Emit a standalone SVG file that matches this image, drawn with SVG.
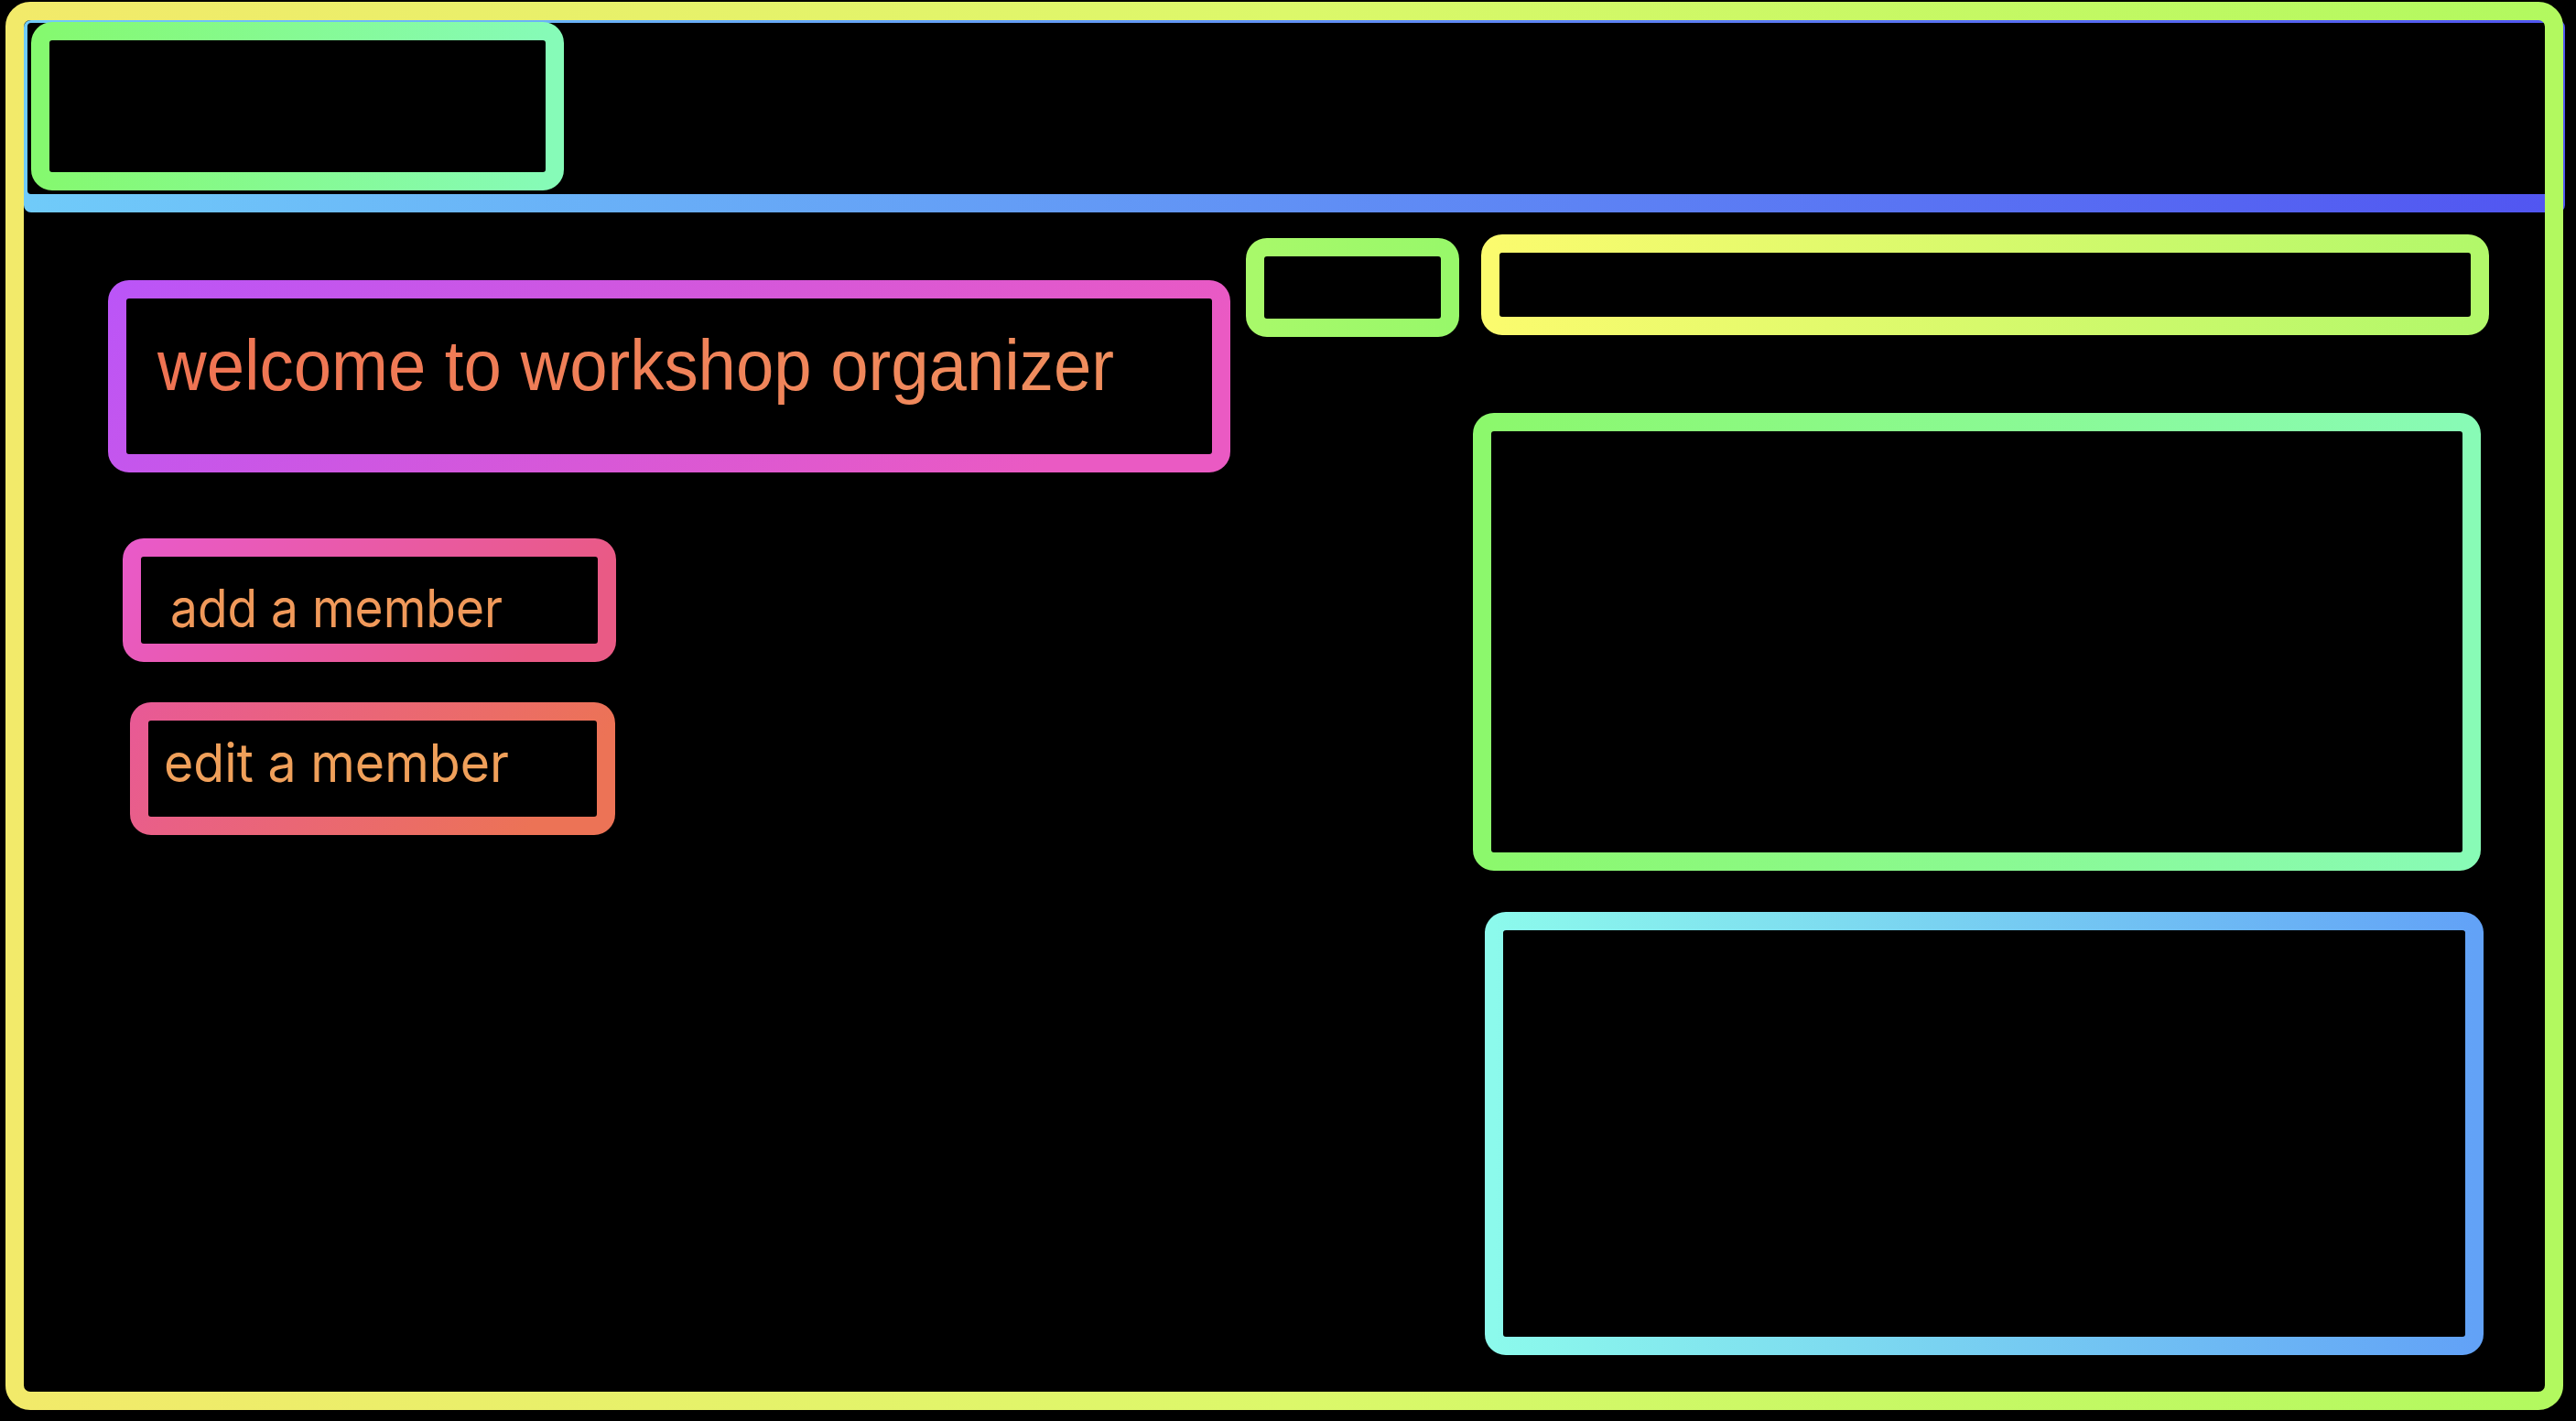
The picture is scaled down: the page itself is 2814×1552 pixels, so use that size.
<svg xmlns="http://www.w3.org/2000/svg" width="2814" height="1552" viewBox="0 0 2814 1552">
  <defs>
    <linearGradient id="gFrame" x1="0" y1="0" x2="1" y2="0">
      <stop offset="0" stop-color="#f2ea6a"/>
      <stop offset="0.5" stop-color="#dcf86a"/>
      <stop offset="1" stop-color="#b2f95f"/>
    </linearGradient>
    <linearGradient id="gHeader" x1="0" y1="0" x2="1" y2="0">
      <stop offset="0" stop-color="#70cbf9"/>
      <stop offset="1" stop-color="#5155f1"/>
    </linearGradient>
    <linearGradient id="gLogo" x1="0" y1="0" x2="1" y2="0">
      <stop offset="0" stop-color="#85f96f"/>
      <stop offset="1" stop-color="#86fbb8"/>
    </linearGradient>
    <linearGradient id="gWelcome" x1="0" y1="0" x2="1" y2="0.2">
      <stop offset="0" stop-color="#bb55f7"/>
      <stop offset="1" stop-color="#ea5ac3"/>
    </linearGradient>
    <linearGradient id="gWelcomeText" x1="0" y1="0" x2="1" y2="0">
      <stop offset="0" stop-color="#ef7352"/>
      <stop offset="1" stop-color="#f08e5e"/>
    </linearGradient>
    <linearGradient id="gAdd" x1="0" y1="0" x2="1" y2="0.2">
      <stop offset="0" stop-color="#e95ac8"/>
      <stop offset="1" stop-color="#e95a85"/>
    </linearGradient>
    <linearGradient id="gEdit" x1="0" y1="0" x2="1" y2="0.2">
      <stop offset="0" stop-color="#e85a95"/>
      <stop offset="1" stop-color="#ec7356"/>
    </linearGradient>
    <linearGradient id="gSmall" x1="0" y1="0" x2="1" y2="0">
      <stop offset="0" stop-color="#a8f96a"/>
      <stop offset="1" stop-color="#98f86a"/>
    </linearGradient>
    <linearGradient id="gSearch" x1="0" y1="0" x2="1" y2="0">
      <stop offset="0" stop-color="#fbfb6e"/>
      <stop offset="1" stop-color="#b2f86a"/>
    </linearGradient>
    <linearGradient id="gPanel1" x1="0" y1="0" x2="1" y2="0">
      <stop offset="0" stop-color="#8cf86c"/>
      <stop offset="1" stop-color="#88fbb6"/>
    </linearGradient>
    <linearGradient id="gPanel2" x1="0" y1="0" x2="1" y2="0">
      <stop offset="0" stop-color="#8cfaec"/>
      <stop offset="1" stop-color="#62a2f7"/>
    </linearGradient>
  </defs>
  <style>
    .box { fill: #000000; stroke-width: 20; }
    .title { font-family: "Liberation Sans", Arial, sans-serif; font-size: 78px; }
    .btn { font-family: Inter, "Noto Sans", sans-serif; font-size: 58px; }
  </style>

  <rect x="0" y="0" width="2814" height="1552" fill="#000000"/>

  <g id="header">
    <path fill="url(#gHeader)" fill-rule="evenodd" d="M34 22 H2794 A8 8 0 0 1 2802 30 V224 A8 8 0 0 1 2794 232 H34 A8 8 0 0 1 26 224 V30 A8 8 0 0 1 34 22 Z M34 25 A4 4 0 0 0 30 29 V208 A4 4 0 0 0 34 212 H2794 A4 4 0 0 0 2798 208 V29 A4 4 0 0 0 2794 25 Z"/>
  </g>

  <g id="frame">
    <rect x="16" y="12" width="2774" height="1518" rx="17" fill="none" stroke="url(#gFrame)" stroke-width="20"/>
  </g>

  <g id="logo-box">
    <rect class="box" x="44" y="34" width="562" height="164" rx="13" stroke="url(#gLogo)"/>
  </g>

  <g id="welcome">
    <rect class="box" x="128" y="316" width="1206" height="190" rx="13" stroke="url(#gWelcome)"/>
    <text class="title" x="172" y="426" fill="url(#gWelcomeText)" textLength="1045" lengthAdjust="spacingAndGlyphs">welcome to workshop organizer</text>
  </g>

  <g id="add-member">
    <rect class="box" x="144" y="598" width="519" height="115" rx="13" stroke="url(#gAdd)"/>
    <text class="btn" x="186" y="685" fill="#f0995a" textLength="363" lengthAdjust="spacingAndGlyphs">add a member</text>
  </g>

  <g id="edit-member">
    <rect class="box" x="152" y="777" width="510" height="125" rx="13" stroke="url(#gEdit)"/>
    <text class="btn" x="179" y="854" fill="#f0a05a" textLength="377" lengthAdjust="spacingAndGlyphs">edit a member</text>
  </g>

  <g id="small-button">
    <rect class="box" x="1371" y="270" width="213" height="88" rx="13" stroke="url(#gSmall)"/>
  </g>

  <g id="search-bar">
    <rect class="box" x="1628" y="266" width="1081" height="90" rx="13" stroke="url(#gSearch)"/>
  </g>

  <g id="panel-top">
    <rect class="box" x="1619" y="461" width="1081" height="480" rx="13" stroke="url(#gPanel1)"/>
  </g>

  <g id="panel-bottom">
    <rect class="box" x="1632" y="1006" width="1071" height="464" rx="13" stroke="url(#gPanel2)"/>
  </g>

  <g id="connectors"/>
</svg>
